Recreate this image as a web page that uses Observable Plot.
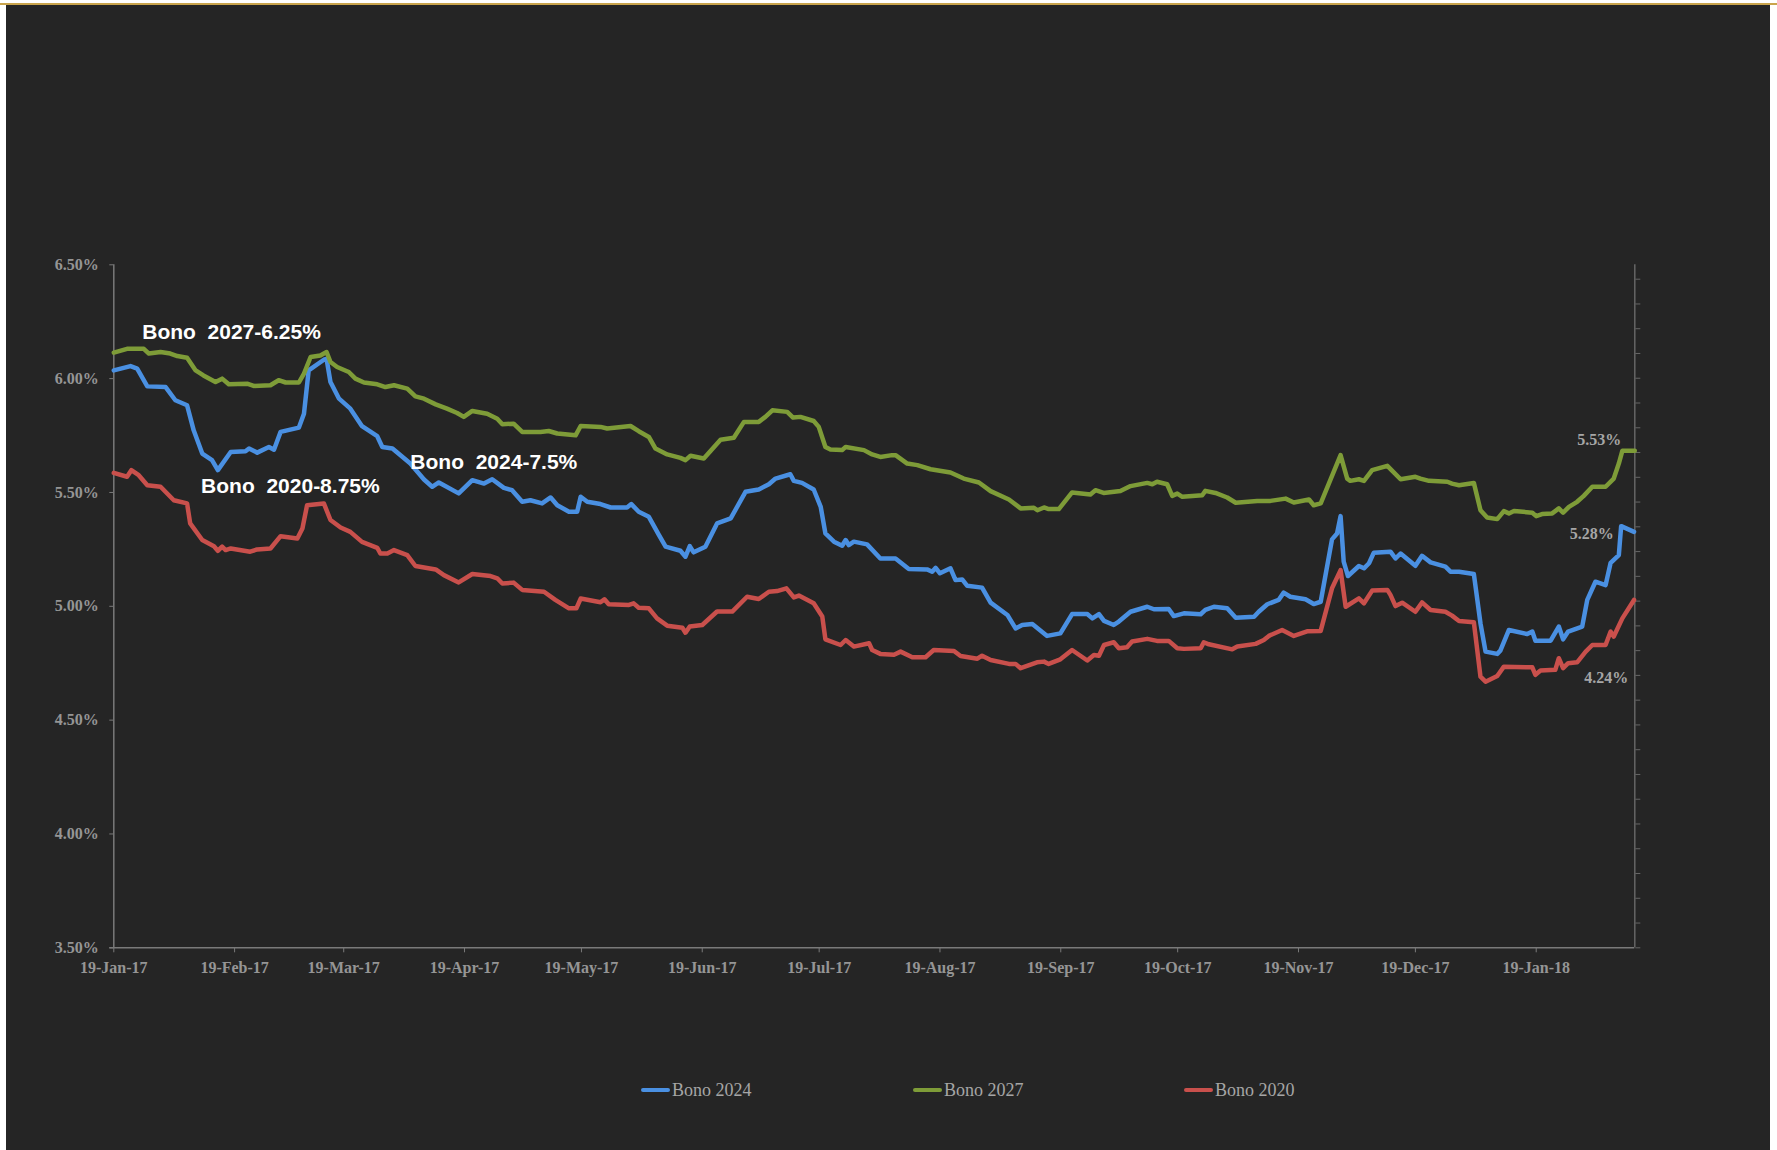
<!DOCTYPE html>
<html><head><meta charset="utf-8">
<script src="https://cdn.jsdelivr.net/npm/d3@7"></script>
<script src="https://cdn.jsdelivr.net/npm/@observablehq/plot@0.6"></script>
<style>
html,body{margin:0;padding:0;background:#fff;}
#page{position:relative;width:1777px;height:1150px;overflow:hidden;background:#fff;}
#bg{position:absolute;left:6px;top:5px;width:1764px;height:1145px;background:#252525;}
#gold{position:absolute;left:0;top:3px;width:1777px;height:2px;background:#c9a44c;}
#chart{position:absolute;left:0;top:0;}
#legend{position:absolute;left:0;top:1078px;width:1777px;height:24px;font-family:"Liberation Serif",serif;font-size:18px;color:#a6a6a6;}
.item{position:absolute;top:0;display:flex;align-items:center;height:24px;white-space:nowrap;}
.sw{width:29px;height:4px;border-radius:2px;margin-right:2px;}
</style></head>
<body>
<div id="page"><div id="bg"></div><div id="gold"></div><div id="chart"></div><div id="legend"></div></div>
<script>
// ---- data (day offset from 19-Jan-2017, yield %) ----
const startDate = "2017-01-19";
const endDay = 390.3;
const seriesNames = ["Bono 2024", "Bono 2027", "Bono 2020"];
const seriesColors = ["#4a90e2", "#7e9c38", "#c9504c"];

const bono2024 = [[0,6.036],[4.3,6.055],[6,6.044],[8.6,5.966],[13.3,5.963],[15.8,5.905],[18.8,5.883],[20.5,5.773],[22.7,5.671],[25.2,5.642],[26.7,5.598],[30,5.678],[33.8,5.681],[34.7,5.693],[36.8,5.675],[39.8,5.700],[41.1,5.688],[42.8,5.766],[47.5,5.785],[48.8,5.846],[50,6.036],[53.9,6.083],[54.6,6.087],[55.6,5.985],[57.8,5.912],[60.7,5.868],[63.7,5.791],[67.6,5.747],[68.9,5.700],[71.5,5.693],[76.1,5.627],[79.6,5.557],[81.7,5.525],[83.4,5.544],[88.5,5.496],[92,5.554],[95,5.539],[97.1,5.558],[100.1,5.520],[102.2,5.510],[104.8,5.459],[106.9,5.466],[109.9,5.452],[112.1,5.478],[113.8,5.444],[116.8,5.415],[118.9,5.415],[119.8,5.481],[121.5,5.459],[124.9,5.449],[127.5,5.434],[131.7,5.434],[132.8,5.449],[134.7,5.415],[137.3,5.393],[139.9,5.313],[141.6,5.262],[145.4,5.244],[146.7,5.218],[147.8,5.264],[148.8,5.237],[151.8,5.262],[154.8,5.364],[158.3,5.386],[162.1,5.503],[165.5,5.513],[168.1,5.536],[169.8,5.561],[173.6,5.580],[174.5,5.551],[176.6,5.542],[179.6,5.513],[181.4,5.437],[182.6,5.320],[184.8,5.284],[186.9,5.266],[187.8,5.291],[188.6,5.269],[189.9,5.284],[193.3,5.272],[196.7,5.210],[200.6,5.210],[204,5.164],[208.7,5.162],[210,5.152],[210.9,5.169],[212,5.145],[214.7,5.167],[216,5.115],[217.7,5.118],[219,5.090],[222.8,5.082],[225,5.016],[229.3,4.962],[231.4,4.903],[233.1,4.918],[235.7,4.922],[239.5,4.870],[242.9,4.881],[245.9,4.966],[249.8,4.966],[251.1,4.947],[252.8,4.966],[254.1,4.936],[256.6,4.918],[257.9,4.933],[260.9,4.976],[265.2,4.998],[266.9,4.987],[270.7,4.988],[272,4.957],[274.6,4.969],[278.9,4.965],[280.1,4.984],[282.3,4.998],[285.7,4.991],[287.9,4.950],[292.6,4.954],[293.8,4.976],[296,5.009],[298.9,5.028],[300.2,5.060],[301.9,5.042],[305.8,5.031],[307.9,5.010],[309.7,5.020],[312.6,5.294],[313.9,5.320],[314.8,5.396],[315.6,5.196],[316.7,5.133],[319.5,5.177],[320.8,5.167],[322.1,5.189],[323.3,5.235],[327.6,5.240],[328.9,5.210],[330.2,5.232],[334,5.178],[335.7,5.222],[337.9,5.193],[341.7,5.174],[343,5.152],[345.2,5.152],[349,5.142],[350.7,4.925],[352,4.801],[355,4.791],[355.8,4.805],[358,4.896],[362.7,4.878],[364,4.889],[364.8,4.849],[368.7,4.849],[370.8,4.911],[371.9,4.855],[373.2,4.889],[376.8,4.911],[378.1,5.028],[380.2,5.108],[382.8,5.093],[384.1,5.191],[386.2,5.225],[386.8,5.352],[390.1,5.327]];

const bono2027 = [[0,6.114],[3.4,6.131],[7.7,6.131],[9,6.110],[12,6.117],[14.5,6.110],[16.3,6.099],[18.8,6.092],[21,6.036],[23,6.014],[26.1,5.985],[27.8,6.000],[29.5,5.975],[34.2,5.978],[35.9,5.968],[40.2,5.971],[42.3,5.993],[44.1,5.983],[47.5,5.983],[48.8,6.022],[50.5,6.095],[53,6.102],[54.6,6.117],[55.6,6.073],[57.3,6.051],[60.3,6.029],[62,6.000],[64.2,5.983],[67.6,5.975],[69.7,5.963],[71.9,5.971],[75.3,5.956],[77.4,5.922],[79.6,5.912],[82.6,5.887],[85.5,5.868],[88.1,5.849],[89.8,5.832],[92,5.858],[95.8,5.846],[98.4,5.824],[99.7,5.800],[102.6,5.802],[104.8,5.766],[109.5,5.766],[111.6,5.770],[113.8,5.759],[118.5,5.751],[119.8,5.792],[124.9,5.788],[126.6,5.781],[132.6,5.792],[134.7,5.769],[137.3,5.744],[139,5.693],[142,5.667],[145.4,5.652],[146.7,5.642],[148,5.661],[151.4,5.649],[155.7,5.732],[159.1,5.740],[161.7,5.810],[165.5,5.810],[167.2,5.832],[169,5.861],[172.8,5.854],[174.3,5.829],[176.2,5.832],[179.6,5.814],[180.9,5.788],[182.6,5.700],[183.9,5.689],[186.9,5.686],[187.8,5.700],[192.5,5.686],[194.6,5.667],[196.7,5.656],[199.7,5.664],[200.6,5.664],[203.6,5.627],[206.2,5.620],[209.6,5.602],[214.7,5.588],[218.1,5.561],[222,5.544],[225,5.506],[229.7,5.469],[232.7,5.430],[236.1,5.433],[237,5.422],[238.7,5.434],[239.9,5.427],[242.5,5.427],[245.9,5.500],[250.6,5.491],[251.9,5.510],[254,5.498],[258.3,5.506],[260.9,5.528],[265.2,5.542],[266.5,5.536],[267.7,5.547],[270.3,5.536],[271.6,5.485],[272.9,5.495],[274.2,5.481],[279.3,5.488],[280.1,5.507],[282.7,5.498],[285.7,5.478],[287.9,5.455],[293.4,5.462],[296.8,5.463],[300.7,5.473],[302.8,5.456],[306.7,5.469],[307.9,5.444],[309.7,5.452],[314.8,5.664],[316.5,5.561],[317.3,5.551],[319.5,5.558],[320.8,5.551],[322.9,5.598],[326.8,5.617],[330.2,5.558],[334,5.569],[335.3,5.561],[337.5,5.551],[342.2,5.547],[343.4,5.539],[345.2,5.532],[349,5.542],[350.7,5.422],[352.4,5.390],[355,5.383],[356.7,5.418],[358,5.408],[359.3,5.419],[364,5.411],[365,5.396],[366.5,5.405],[369.1,5.408],[370.8,5.430],[371.9,5.411],[373.4,5.437],[375.5,5.459],[377.2,5.485],[379.4,5.525],[382.8,5.525],[384.9,5.561],[386.2,5.627],[387.1,5.683],[390.3,5.683]];

const bono2020 = [[0,5.586],[3.4,5.569],[4.5,5.598],[6.4,5.576],[8.6,5.532],[12,5.525],[15.4,5.466],[18.8,5.452],[19.6,5.364],[22.7,5.291],[25.7,5.264],[26.7,5.244],[27.8,5.262],[28.7,5.247],[30,5.254],[35,5.240],[36.8,5.250],[40.2,5.254],[42.8,5.308],[47.1,5.298],[48.4,5.342],[49.6,5.444],[53.9,5.452],[55.6,5.379],[58.2,5.346],[60.7,5.327],[63.7,5.283],[67.6,5.257],[68.4,5.232],[70.2,5.232],[71.9,5.247],[75.3,5.225],[77.4,5.177],[82.6,5.162],[84.7,5.137],[88.5,5.105],[92,5.142],[96.7,5.133],[98.4,5.123],[99.7,5.100],[102.6,5.104],[104.8,5.072],[110.4,5.064],[113.3,5.028],[116.8,4.991],[118.7,4.991],[119.8,5.034],[124.9,5.018],[125.9,5.031],[127,5.009],[132.2,5.006],[133.4,5.013],[134.7,4.994],[137.3,4.991],[139.4,4.947],[142,4.915],[145.9,4.906],[146.7,4.884],[147.8,4.911],[151,4.918],[154.8,4.977],[158.7,4.977],[162.5,5.042],[165.5,5.032],[168.1,5.064],[170.2,5.067],[172.6,5.079],[174.5,5.039],[175.8,5.047],[179.6,5.013],[181.8,4.955],[182.6,4.855],[186.5,4.830],[187.8,4.852],[189.9,4.823],[193.8,4.838],[194.6,4.808],[196.7,4.791],[200.2,4.787],[201.9,4.801],[204.9,4.776],[208.3,4.776],[210.4,4.808],[215.6,4.804],[217.3,4.782],[221.6,4.770],[222.8,4.783],[225,4.764],[229.7,4.747],[231.4,4.747],[232.7,4.728],[236.9,4.754],[238.7,4.757],[239.9,4.747],[242.9,4.767],[245.9,4.808],[249.8,4.762],[251.5,4.786],[252.8,4.783],[254.1,4.830],[256.6,4.842],[257.9,4.816],[260,4.820],[261.3,4.845],[265.2,4.857],[267.7,4.848],[270.7,4.848],[272.9,4.816],[274.6,4.813],[278.9,4.816],[279.7,4.842],[281,4.833],[287,4.811],[288.3,4.823],[293,4.835],[295.1,4.852],[296.4,4.870],[299.8,4.896],[302.8,4.870],[306.2,4.890],[309.7,4.892],[312.6,5.079],[314.8,5.159],[316.1,4.998],[319.5,5.035],[320.8,5.013],[322.9,5.069],[326.8,5.072],[327.6,5.050],[328.9,5.001],[330.6,5.016],[334,4.976],[335.7,5.017],[337.9,4.984],[341.7,4.976],[343.4,4.959],[345.2,4.935],[349,4.930],[350.7,4.691],[352,4.669],[355,4.694],[356.7,4.735],[362.7,4.732],[364,4.732],[364.8,4.699],[366.1,4.718],[369.9,4.721],[370.8,4.772],[371.9,4.728],[373.2,4.750],[375.5,4.754],[377.7,4.801],[379.4,4.830],[382.8,4.830],[384.1,4.889],[384.9,4.867],[387.1,4.947],[390.1,5.028]];

const yTicks = [3.5, 4.0, 4.5, 5.0, 5.5, 6.0, 6.5];
const xTickDates = ["2017-01-19","2017-02-19","2017-03-19","2017-04-19","2017-05-19","2017-06-19","2017-07-19","2017-08-19","2017-09-19","2017-10-19","2017-11-19","2017-12-19","2018-01-19"];
const rightTickStep = 0.10877;
const rightTickCount = 28;

const annotationTexts = ["Bono\u00a0 2027-6.25%", "Bono\u00a0 2020-8.75%", "Bono\u00a0 2024-7.5%"];
const annotationDays = [7.3, 22.4, 76.1];
const annotationValues = [6.204, 5.529, 5.634];

const endLabelTexts = ["5.53%", "5.28%", "4.24%"];
const endLabelDays = [386.8, 384.9, 388.6];
const endLabelValues = [5.733, 5.320, 4.684];

// ---- build ----
const DAY = 864e5;
const t0 = new Date(startDate + "T00:00:00Z").getTime();
const toDate = d => new Date(t0 + d * DAY);

const rows = [];
[bono2024, bono2027, bono2020].forEach((arr, i) =>
  arr.forEach(([d, v]) => rows.push({date: toDate(d), value: v, series: seriesNames[i]})));

const annotations = annotationTexts.map((t, i) => ({label: t, date: toDate(annotationDays[i]), value: annotationValues[i]}));
const endLabels = endLabelTexts.map((t, i) => ({label: t, date: toDate(endLabelDays[i]), value: endLabelValues[i]}));
const rightTicks = d3.range(rightTickCount).map(k => 3.5 + k * rightTickStep);
const xTicks = xTickDates.map(s => new Date(s + "T00:00:00Z"));
const fmtDate = d3.utcFormat("%d-%b-%y");

const chart = Plot.plot({
  width: 1777,
  height: 1040,
  marginLeft: 113.3,
  marginRight: 142.7,
  marginTop: 264.3,
  marginBottom: 92.7,
  x: {type: "utc", domain: [toDate(0), toDate(endDay)]},
  y: {domain: [3.5, 6.5]},
  color: {domain: seriesNames, range: seriesColors},
  style: {background: "transparent", fontFamily: "'Liberation Serif', serif", fontSize: "16px", fontWeight: "bold", color: "#959595", overflow: "visible"},
  marks: [
    Plot.ruleX([toDate(0)], {stroke: "#7a7a7a", strokeWidth: 1.5}),
    Plot.ruleX([toDate(endDay)], {stroke: "#666666", strokeWidth: 1.5}),
    Plot.ruleY([3.5], {stroke: "#7a7a7a", strokeWidth: 1.5, insetLeft: -4}),
    Plot.axisY({ticks: yTicks, tickFormat: v => v.toFixed(2) + "%", tickSize: 4, tickPadding: 11, stroke: "#7a7a7a", fill: "#959595", label: null}),
    Plot.axisY({anchor: "right", ticks: rightTicks, tickFormat: () => "", tickSize: 5, stroke: "#666666", label: null}),
    Plot.axisX({ticks: xTicks, tickFormat: fmtDate, tickSize: 5, tickPadding: 9, stroke: "#7a7a7a", fill: "#959595", label: null}),
    Plot.line(rows, {x: "date", y: "value", stroke: "series", z: "series", strokeWidth: 4.5, strokeLinejoin: "round", strokeLinecap: "round"}),
    Plot.text(annotations, {x: "date", y: "value", text: "label", textAnchor: "start", fill: "white", fontFamily: "'Liberation Sans', Arial, sans-serif", fontWeight: "bold", fontSize: 21}),
    Plot.text(endLabels, {x: "date", y: "value", text: "label", textAnchor: "end", fill: "#a6a6a6", fontSize: 16, fontWeight: "bold"})
  ]
});
document.getElementById("chart").appendChild(chart);

// legend
const legendLefts = [641, 913, 1184];
const legend = document.getElementById("legend");
seriesNames.forEach((name, i) => {
  const item = document.createElement("div");
  item.className = "item";
  item.style.left = legendLefts[i] + "px";
  const sw = document.createElement("span");
  sw.className = "sw";
  sw.style.background = seriesColors[i];
  const tx = document.createElement("span");
  tx.textContent = name;
  item.appendChild(sw); item.appendChild(tx);
  legend.appendChild(item);
});
</script>
</body></html>
